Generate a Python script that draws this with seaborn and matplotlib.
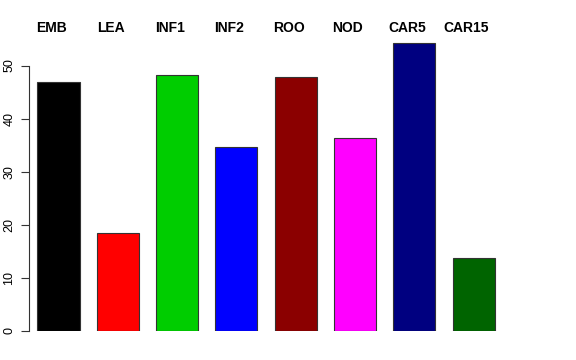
import matplotlib
matplotlib.use("Agg")
import matplotlib.pyplot as plt
import matplotlib.transforms as mtransforms
import seaborn as sns
import pandas as pd

categories = ["EMB", "LEA", "INF1", "INF2", "ROO", "NOD", "CAR5", "CAR15"]
values = [46.8, 18.5, 48.3, 34.6, 47.8, 36.4, 54.2, 13.7]
colors = ["#000000", "#FF0000", "#00CD00", "#0000FF", "#8B0000", "#FF00FF", "#000080", "#006400"]

df = pd.DataFrame({"tissue": categories, "value": values})

sns.set_style("white")
plt.rcParams["font.family"] = ["Liberation Sans", "DejaVu Sans"]
plt.rcParams["text.color"] = "black"
plt.rcParams["ytick.color"] = "black"

fig = plt.figure(figsize=(5.76, 3.6), dpi=100)
ax = fig.add_axes([29 / 576, 29 / 360, 516 / 576, 55 * 5.31 / 360])

sns.barplot(
    data=df, x="tissue", y="value", hue="tissue", order=categories,
    palette=colors, saturation=1, legend=False, width=0.71, edgecolor="#333333",
    linewidth=0.8, ax=ax,
)

ax.set_xlim(-0.4975, 8.204)
ax.set_ylim(0, 55)
ax.set_xlabel("")
ax.set_ylabel("")
ax.set_xticks([])
ax.set_yticks(range(0, 51, 10))
ax.set_yticklabels([str(v) for v in range(0, 51, 10)], rotation=90, va="center", fontsize=9)
ax.tick_params(axis="y", left=True, length=5.8, width=0.8, pad=4, color="#333333",
               labelcolor="black")

for s in ["top", "right", "bottom"]:
    ax.spines[s].set_visible(False)
ax.spines["left"].set_bounds(0, 50)
ax.spines["left"].set_linewidth(0.8)
ax.spines["left"].set_color("#333333")

# group labels along the top
trans = mtransforms.blended_transform_factory(ax.transData, fig.transFigure)
for i, name in enumerate(categories):
    ax.text(i - 0.12, 1 - 28 / 360, name, transform=trans, ha="center", va="center",
            fontsize=10, fontweight="bold", color="black")

fig.savefig("out.png", dpi=100)
